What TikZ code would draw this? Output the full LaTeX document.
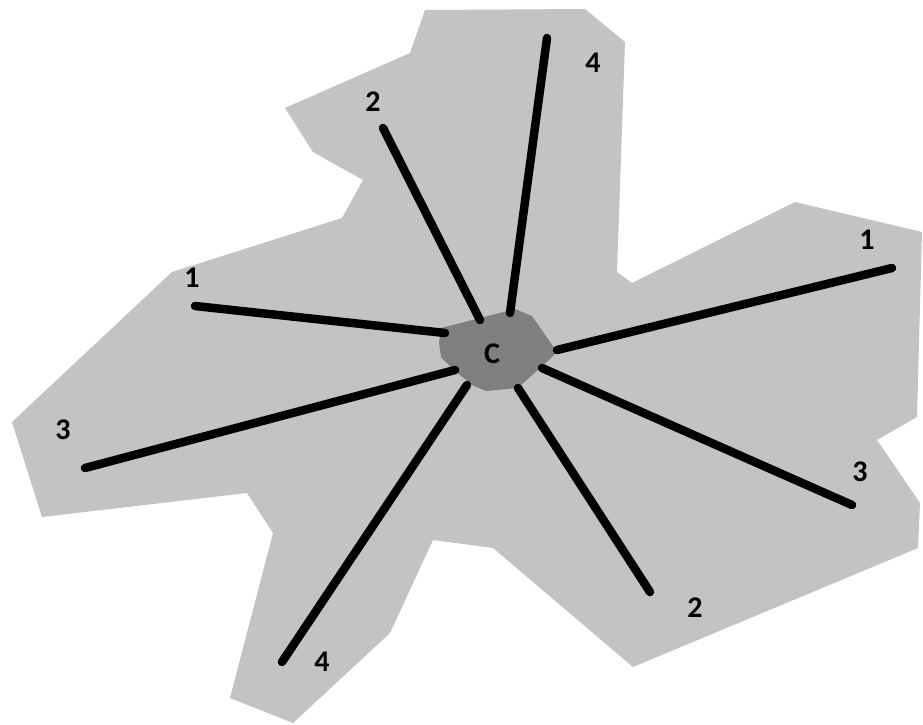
\documentclass[tikz,border=0pt]{standalone}
\usepackage{fontspec}
\setmainfont{Carlito}
\usepackage{tikz}
\usetikzlibrary{positioning}
\definecolor{lobegray}{HTML}{C3C3C3}
\definecolor{coregray}{HTML}{7F7F7F}

\begin{document}
\begin{tikzpicture}[x=1pt, y=-1pt,
    spoke/.style={line width=8.5pt, line cap=round, black},
    numlabel/.style={font=\fontsize{30}{32}\selectfont\bfseries, inner sep=0pt}]
    \useasboundingbox (0,0) rectangle (923,724);
    % outer region
    \fill[lobegray] (425,10) -- (585,9) -- (625,42) -- (617,272) -- (632,283)
      -- (795,202) -- (922,232) -- (917,417) -- (877,440) -- (920,503)
      -- (918,548) -- (633,667) -- (493,548) -- (433,540) -- (390,633)
      -- (293,723) -- (230,698) -- (273,533) -- (247,493) -- (42,517)
      -- (12,422) -- (172,272) -- (342,218) -- (363,180) -- (313,152)
      -- (285,108) -- (410,53) -- cycle;
    % core
    \fill[coregray] (441,328) -- (515,309) -- (532,316) -- (557,352)
      -- (550,359) -- (530,377) -- (518,388) -- (486,391) -- (474,386)
      -- (456,372) -- (441,357) -- (439,343) -- cycle;
    \node[numlabel] (core) at (492,354) {C};

    % spoke ends
    \coordinate (inA) at (445,333);  \coordinate (outA) at (195,306);
    \coordinate (inB) at (480,320);  \coordinate (outB) at (383,128);
    \coordinate (inC) at (510,313);  \coordinate (outC) at (547,38);
    \coordinate (inD) at (557,350);  \coordinate (outD) at (892,268);
    \coordinate (inE) at (542,368);  \coordinate (outE) at (852,505);
    \coordinate (inF) at (518,388);  \coordinate (outF) at (650,592);
    \coordinate (inG) at (467,385);  \coordinate (outG) at (282,662);
    \coordinate (inH) at (455,370);  \coordinate (outH) at (85,468);

    \foreach \s in {A,B,C,D,E,F,G,H}
      \draw[spoke] (in\s) -- (out\s);

    % labels
    \node[numlabel] (labA) at (192,278) {1};
    \node[numlabel] (labB) at (373,102) {2};
    \node[numlabel] (labC) at (593,63) {4};
    \node[numlabel] (labD) at (867,240) {1};
    \node[numlabel] (labE) at (860,472) {3};
    \node[numlabel] (labF) at (695,608) {2};
    \node[numlabel] (labG) at (322,662) {4};
    \node[numlabel] (labH) at (63,430) {3};
\end{tikzpicture}
\end{document}
